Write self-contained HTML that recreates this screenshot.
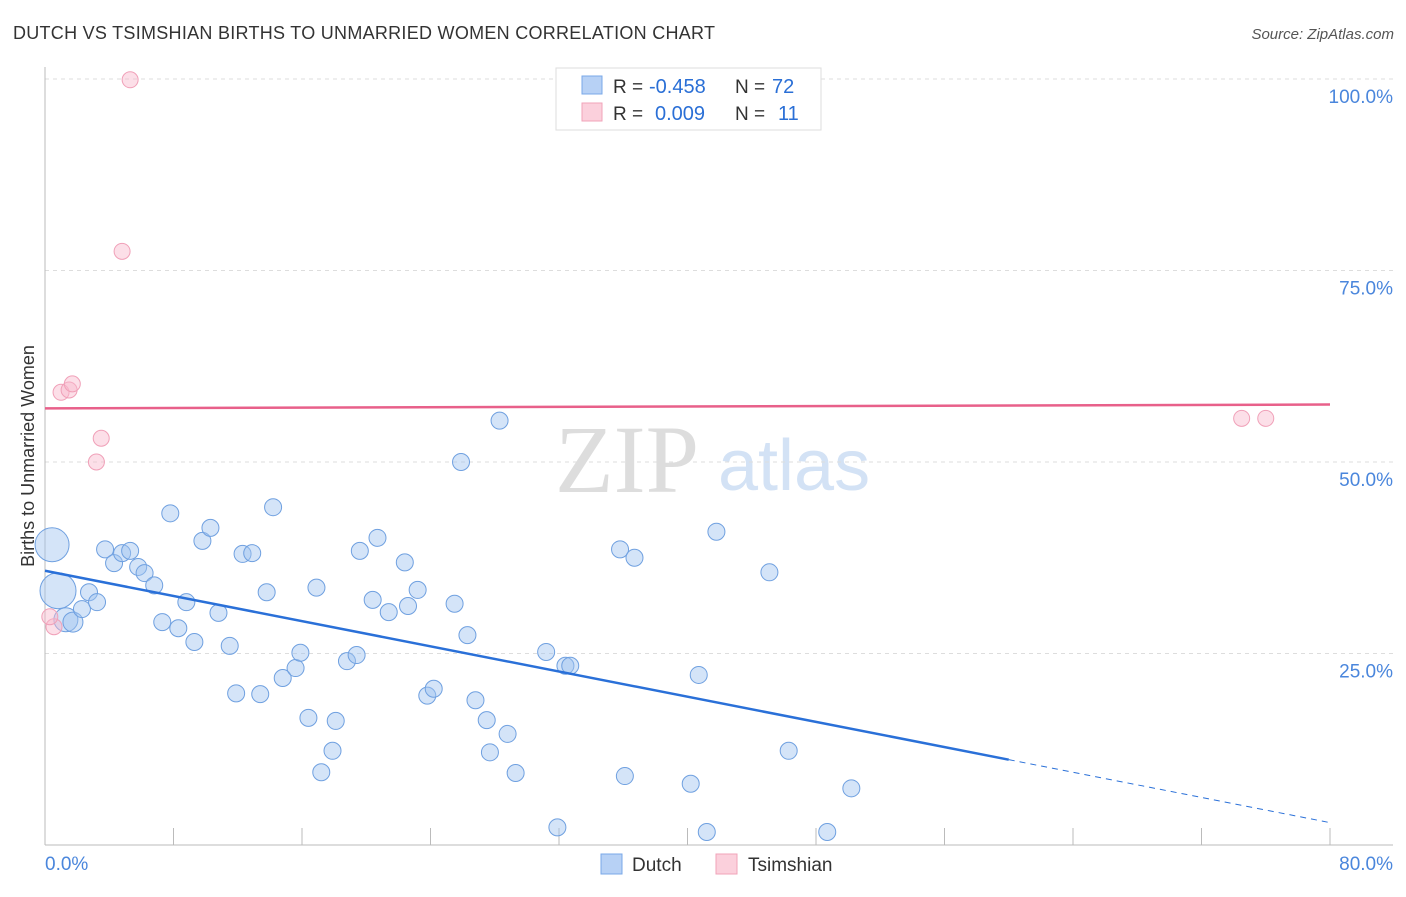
<!DOCTYPE html>
<html><head><meta charset="utf-8"><style>
body{margin:0;background:#fff;font-family:"Liberation Sans",sans-serif}
</style></head><body>
<svg id="c" width="1406" height="892" xmlns="http://www.w3.org/2000/svg">
<text x="13" y="39" font-size="18" fill="#333" textLength="702">DUTCH VS TSIMSHIAN BIRTHS TO UNMARRIED WOMEN CORRELATION CHART</text>
<text x="1394" y="39" font-size="15" fill="#555" font-style="italic" text-anchor="end">Source: ZipAtlas.com</text>
<text x="555" y="492" font-size="96" fill="#ddd" font-family="Liberation Serif,serif">ZIP</text>
<text x="718" y="490" font-size="72" fill="#d3e2f5">atlas</text>
<text transform="translate(34,456) rotate(-90)" font-size="18" fill="#333" text-anchor="middle">Births to Unmarried Women</text>
<g id="grid"></g><g id="axes"></g><g id="marks"></g>
<g>
<rect x="556" y="68" width="265" height="62" fill="#fff" stroke="#ddd"/>
<rect x="582" y="76" width="20" height="18" fill="#b7d1f5" stroke="#7aa8e8"/>
<rect x="582" y="103" width="20" height="18" fill="#fbd0dc" stroke="#f0a3b9"/>
<text x="613" y="93" font-size="19" fill="#333">R =</text>
<text x="649" y="93" font-size="20" fill="#2a6fd6">-0.458</text>
<text x="735" y="93" font-size="19" fill="#333">N =</text>
<text x="772" y="93" font-size="20" fill="#2a6fd6">72</text>
<text x="613" y="120" font-size="19" fill="#333">R =</text>
<text x="655" y="120" font-size="20" fill="#2a6fd6">0.009</text>
<text x="735" y="120" font-size="19" fill="#333">N =</text>
<text x="778" y="120" font-size="20" fill="#2a6fd6">11</text>
</g>
<g>
<rect x="601" y="854" width="21" height="20" fill="#b7d1f5" stroke="#7aa8e8"/>
<text x="632" y="871" font-size="19" fill="#333">Dutch</text>
<rect x="716" y="854" width="21" height="20" fill="#fbd0dc" stroke="#f0a3b9"/>
<text x="748" y="871" font-size="19" fill="#333">Tsimshian</text>
</g>
</svg>
<script>
const dutchX=[0.44,0.81,1.3,1.74,2.3,2.74,3.24,3.74,4.3,4.8,5.3,5.8,6.2,6.8,7.3,7.8,8.3,8.8,9.3,9.8,10.3,10.8,11.5,11.9,12.3,12.9,13.4,13.8,14.2,14.8,15.6,15.9,16.4,16.9,17.2,17.9,18.1,18.8,19.4,19.6,20.4,20.7,21.4,22.4,22.6,23.2,23.8,24.2,25.5,25.9,26.3,26.8,27.5,27.7,28.3,28.8,29.3,31.2,31.9,32.4,32.7,35.8,36.1,36.7,40.2,40.7,41.2,41.8,45.1,46.3,48.7,50.2];
const dutchY=[39.2,33.2,29.4,29.1,30.8,33.0,31.7,38.6,36.8,38.1,38.4,36.3,35.5,33.9,29.1,43.3,28.3,31.7,26.5,39.7,41.4,30.3,26.0,19.8,38.0,38.1,19.7,33.0,44.1,21.8,23.1,25.1,16.6,33.6,9.5,12.3,16.2,24.0,24.8,38.4,32.0,40.1,30.4,36.9,31.2,33.3,19.5,20.4,31.5,50.0,27.4,18.9,16.3,12.1,55.4,14.5,9.4,25.2,2.3,23.4,23.4,38.6,9.0,37.5,8.0,22.2,1.7,40.9,35.6,12.3,1.7,7.4];
const dutchR=[17,18,12,10];
const tsimX=[5.3,4.8,1.0,1.5,1.7,3.5,3.2,0.56,0.3,74.5,76.0];
const tsimY=[99.9,77.5,59.1,59.4,60.2,53.1,50.0,28.5,29.8,55.7,55.7];
const yTicks=[25,50,75,100];
const yTickLabels=["25.0%","50.0%","75.0%","100.0%"];
const xTickCount=10;
const blueTrend=[35.8,-0.411];
const pinkTrend=[57.0,0.0063];
const X0=45,X1=1330,Y0=845,Y100=79;
const sx=v=>X0+(v/80)*(X1-X0);
const sy=v=>Y0-(v/100)*(Y0-Y100);
const NS="http://www.w3.org/2000/svg";
function mk(tag,attrs,parent){const e=document.createElementNS(NS,tag);for(const k in attrs)e.setAttribute(k,attrs[k]);document.getElementById(parent).appendChild(e);return e;}
yTicks.forEach((t,i)=>{
 const g=mk('line',{x1:45,x2:1393,y1:sy(t),y2:sy(t),stroke:'#ddd','stroke-dasharray':'4,4'},'grid');
 
 
 const l=mk('text',{x:1393,y:sy(t)+24,'font-size':19,fill:'#4a86dc','text-anchor':'end'},'axes');
 l.textContent=yTickLabels[i];
 
 
});
mk('line',{x1:45,x2:45,y1:67,y2:845,stroke:'#bbb'},'axes');
mk('line',{x1:45,x2:1393,y1:845,y2:845,stroke:'#bbb'},'axes');
for(let i=1;i<=xTickCount;i++){const x=sx(i*8);mk('line',{x1:x,x2:x,y1:828,y2:845,stroke:'#bbb'},'axes');}
[["0.0%",45,"start"],["80.0%",1393,"end"]].forEach(a=>{const t=mk('text',{x:a[1],y:870,'font-size':19,fill:'#4a86dc','text-anchor':a[2]},'axes');t.textContent=a[0];

});
dutchX.forEach((v,i)=>{
 const c=mk('circle',{cx:sx(v),cy:sy(dutchY[i]),r:dutchR[i]||8.5,fill:'rgba(160,196,240,0.45)',stroke:'#6fa0e0','stroke-width':1},'marks');
 
 
});
tsimX.forEach((v,i)=>{
 const c=mk('circle',{cx:sx(v),cy:sy(tsimY[i]),r:8,fill:'rgba(248,185,205,0.45)',stroke:'#f0a0b8','stroke-width':1},'marks');
 
 
});
const bt=v=>blueTrend[0]+blueTrend[1]*v;
const b1=mk('line',{x1:sx(0),y1:sy(bt(0)),x2:sx(60),y2:sy(bt(60)),stroke:'#2a70d8','stroke-width':2.5},'marks');


const b2=mk('line',{x1:sx(60),y1:sy(bt(60)),x2:sx(80),y2:sy(bt(80)),stroke:'#2a70d8','stroke-width':1,'stroke-dasharray':'6,5'},'marks');


const pt=v=>pinkTrend[0]+pinkTrend[1]*v;
const p1=mk('line',{x1:sx(0),y1:sy(pt(0)),x2:sx(80),y2:sy(pt(80)),stroke:'#e8608a','stroke-width':2.5},'marks');


</script>
</body></html>
